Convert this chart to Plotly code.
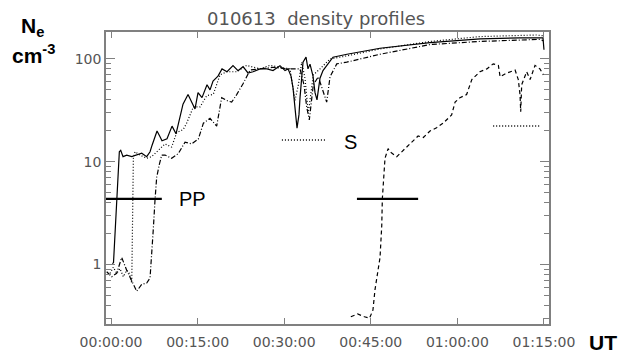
import plotly.graph_objects as go

# ---- data (time in minutes after 00:00:00 UT, density in cm^-3) ----
solid_t = [0.23, 0.43, 1.44, 1.68, 2.08, 2.72, 3.59, 4.45, 5.32, 6.18, 6.76, 7.10, 7.97, 8.49, 8.83,
           9.70, 10.57, 11.26, 11.95, 12.47, 13.34, 14.03, 14.55, 15.07, 15.76, 16.63, 17.15, 17.67,
           18.53, 19.23, 20.09, 21.13, 22.00, 22.87, 23.73, 24.60, 25.81, 27.02, 28.06, 29.27, 30.14,
           30.66, 31.18, 31.53, 31.87, 32.22, 32.56, 32.74, 33.26, 33.78, 34.12, 34.47, 34.99, 35.34,
           35.68, 36.20, 36.72, 37.41, 38.45, 40.88, 46.60, 55.26, 63.92, 70.85, 74.83, 75.0]
solid_n = [1.02, 1.04, 12.5, 12.9, 11.2, 11.6, 11.2, 11.6, 12.1, 11.2, 12.5, 14.4, 19.9, 17.5, 16.0,
           16.7, 22.2, 18.7, 27.5, 36.3, 45, 38, 32.6, 47, 42, 56, 50, 61,
           68, 80, 75, 86, 77, 84, 73, 75, 80, 80, 77, 86, 77,
           80, 68, 52, 30.6, 21.2, 28.7, 42, 93, 104, 80, 89, 68, 47,
           40, 65, 77, 86, 104, 111, 127, 144, 157, 160, 160, 123]

dot_t = [-0.17, 0.40, 0.98, 1.56, 2.14, 2.71, 3.17, 3.59, 3.87, 4.16, 5.02, 6.18, 7.05, 8.49, 9.35,
         10.5, 11.38, 12.52, 13.11, 14.26, 15.42, 16.58, 17.72, 18.88, 20.04, 21.77, 23.5, 25.8,
         27.5, 29.27, 31.0, 31.87, 32.45, 33.03, 33.6, 34.18, 34.6, 35.04, 36.2, 37.94, 40.83,
         46.6, 55.3, 63.9, 73.7, 74.9]
dot_n = [0.82, 0.94, 0.82, 0.91, 0.76, 0.88, 0.82, 0.66, 10.8, 12.5, 11.6, 10.8, 11.2, 13.4, 14.9,
         13.9, 19.2, 20.6, 23.8, 34.1, 34.1, 43.9, 45.3, 70, 75, 75, 86.6, 80,
         86.6, 83, 80, 39.4, 56, 93, 65, 29.5, 45, 70, 80, 100, 107,
         125, 148, 165, 171, 168]

dashdot_t = [-0.75, 0.12, 0.98, 1.85, 2.71, 3.29, 3.87, 4.45, 5.32, 6.18, 6.76, 7.05, 7.33, 7.62,
             7.91, 8.37, 8.78, 9.35, 10.5, 11.66, 12.82, 13.97, 15.12, 16.0, 17.15, 18.3, 19.17,
             20.04, 20.9, 21.77, 22.92, 24.08, 25.8, 28.1, 30.43, 32.74, 33.43, 33.9, 34.35, 35.04,
             35.9, 36.78, 37.36, 37.94, 39.1, 40.83, 46.6, 55.26, 63.92, 74.3, 74.9]
dashdot_n = [0.85, 0.76, 0.82, 1.17, 0.88, 0.76, 0.66, 0.55, 0.64, 0.66, 0.74, 1.17, 2.23, 4.25,
             7.05, 9.4, 11.6, 11.6, 10.8, 12.0, 15.5, 14.9, 16.6, 23.7, 26.4, 22.2, 42,
             39.4, 38, 45, 58, 78, 80, 83, 80, 80, 56, 34, 25.5, 56,
             67, 48.5, 38, 67, 89.5, 93, 111, 138, 148, 155, 150]

dash_t = [41.54, 42.72, 43.9, 44.78, 45.37, 45.44, 45.73, 46.6, 46.9, 47.0, 47.2, 47.46, 48.0, 48.3,
          49.5, 51.2, 53.2, 54.1, 55.26, 56.4, 57.56, 59.0, 59.6, 60.45, 61.6, 62.5, 63.9, 65.1,
          66.2, 67.1, 67.4, 68.5, 70.0, 70.55, 70.85, 70.97, 71.14, 72.0, 72.6, 73.45, 74.3, 74.9]
dash_n = [0.31, 0.33, 0.31, 0.30, 0.36, 0.40, 0.57, 1.17, 2.4, 4.35, 7.05, 10.8, 13.4, 12.5,
          11.2, 13.9, 17.8, 17.2, 19.9, 21.4, 23.8, 28.5, 38, 42, 45, 63, 75, 80,
          89.5, 86.6, 67, 72.6, 77.8, 63, 45, 30.6, 56, 75, 63, 86.6, 80, 70]

# marker lines: plasmapause (PP) bars and S levels
pp_bar1_t = [-1.9, 8.8]
pp_bar2_t = [42.6, 53.2]
pp_level = 4.35
s_bar1_t = [29.6, 37.4]
s_level1 = 16.3
s_bar2_t = [66.2, 74.3]
s_level2 = 22.2

x_range = [-0.87, 75.87]
y_range_log = [-0.579, 2.262]
x_tickvals = [0, 15, 30, 45, 60, 75]
x_ticktext = ["00:00:00", "00:15:00", "00:30:00", "00:45:00", "01:00:00", "01:15:00"]
y_tickvals = [1, 10, 100]
y_ticktext = ["1", "10", "100"]
y_minor = [m * d for d in [0.1, 1, 10, 100] for m in range(2, 10) if m * d < 190]

title_text = "010613\u00a0 density profiles"

fig = go.Figure()
line_specs = [
    (solid_t, solid_n, "solid"),
    (dot_t, dot_n, "1px,2px"),
    (dashdot_t, dashdot_n, "5px,2px,1px,2px"),
    (dash_t, dash_n, "4px,3px"),
]
for t, n, d in line_specs:
    fig.add_trace(go.Scatter(x=t, y=n, mode="lines",
                             line=dict(color="black", width=1.2, dash=d),
                             showlegend=False, hoverinfo="skip"))

# invisible trace so the top / right tick axes are drawn
fig.add_trace(go.Scatter(x=x_tickvals, y=y_tickvals + y_tickvals, xaxis="x2", yaxis="y2",
                         mode="markers", marker=dict(opacity=0), showlegend=False, hoverinfo="skip"))

for bt in (pp_bar1_t, pp_bar2_t):
    fig.add_shape(type="line", xref="x", yref="y", x0=bt[0], x1=bt[1], y0=pp_level, y1=pp_level,
                  line=dict(color="black", width=2.3))
for bt, lv in ((s_bar1_t, s_level1), (s_bar2_t, s_level2)):
    fig.add_shape(type="line", xref="x", yref="y", x0=bt[0], x1=bt[1], y0=lv, y1=lv,
                  line=dict(color="black", width=1.5, dash="1px,2px"))

tick_font = dict(family="DejaVu Sans", size=14, color="#555555")
axis_col = "#808080"

fig.update_layout(
    width=621, height=362,
    margin=dict(l=106, r=72, t=32, b=26),
    paper_bgcolor="white", plot_bgcolor="white",
    showlegend=False,
    xaxis=dict(range=x_range, tickvals=x_tickvals, ticktext=x_ticktext,
               ticks="inside", ticklen=6, tickcolor=axis_col, tickwidth=1,
               showline=True, linecolor=axis_col, linewidth=1.5, mirror=True,
               showgrid=False, zeroline=False, tickfont=tick_font, ticklabelstandoff=4),
    yaxis=dict(type="log", range=y_range_log, tickvals=y_tickvals, ticktext=y_ticktext,
               ticks="inside", ticklen=9, tickcolor=axis_col, tickwidth=1,
               minor=dict(tickvals=y_minor, ticks="inside", ticklen=5, tickcolor=axis_col, showgrid=False),
               showline=True, linecolor=axis_col, linewidth=1.5, mirror=True,
               showgrid=False, zeroline=False, tickfont=tick_font),
    xaxis2=dict(overlaying="x", side="top", range=x_range, tickvals=x_tickvals,
                ticks="inside", ticklen=6, tickcolor=axis_col, tickwidth=1,
                showticklabels=False, showline=False, showgrid=False, zeroline=False),
    yaxis2=dict(overlaying="y", side="right", type="log", range=y_range_log, tickvals=y_tickvals,
                ticks="inside", ticklen=9, tickcolor=axis_col, tickwidth=1,
                minor=dict(tickvals=y_minor, ticks="inside", ticklen=5, tickcolor=axis_col, showgrid=False),
                showticklabels=False, showline=False, showgrid=False, zeroline=False),
)

ann_font = dict(family="Liberation Sans, Arial", size=21, color="black")
fig.add_annotation(text="<b>N<sub>e</sub></b>", xref="paper", yref="paper", x=-0.167, y=1.017,
                   xanchor="center", yanchor="middle", showarrow=False, font=ann_font)
fig.add_annotation(text="<b>cm<sup>-3</sup></b>", xref="paper", yref="paper", x=-0.163, y=0.925,
                   xanchor="center", yanchor="middle", showarrow=False, font=ann_font)
fig.add_annotation(text="<b>UT</b>", xref="paper", yref="paper", x=1.122, y=-0.062,
                   xanchor="center", yanchor="middle", showarrow=False,
                   font=dict(family="Liberation Sans, Arial", size=21, color="black"))
fig.add_annotation(text="PP", xref="x", yref="y", x=(pp_bar1_t[1] + 5.3), y=0.6385,
                   xanchor="center", yanchor="middle", showarrow=False,
                   font=dict(family="Liberation Sans, Arial", size=20, color="black"))
fig.add_annotation(text="S", xref="x", yref="y", x=41.4, y=1.19,
                   xanchor="center", yanchor="middle", showarrow=False,
                   font=dict(family="Liberation Sans, Arial", size=20, color="black"))
fig.add_annotation(text=title_text, xref="paper", yref="paper", x=0.473, y=1.0, yshift=14,
                   xanchor="center", yanchor="middle", showarrow=False,
                   font=dict(family="DejaVu Sans", size=18, color="#555555"))

fig.write_html("out.html")
